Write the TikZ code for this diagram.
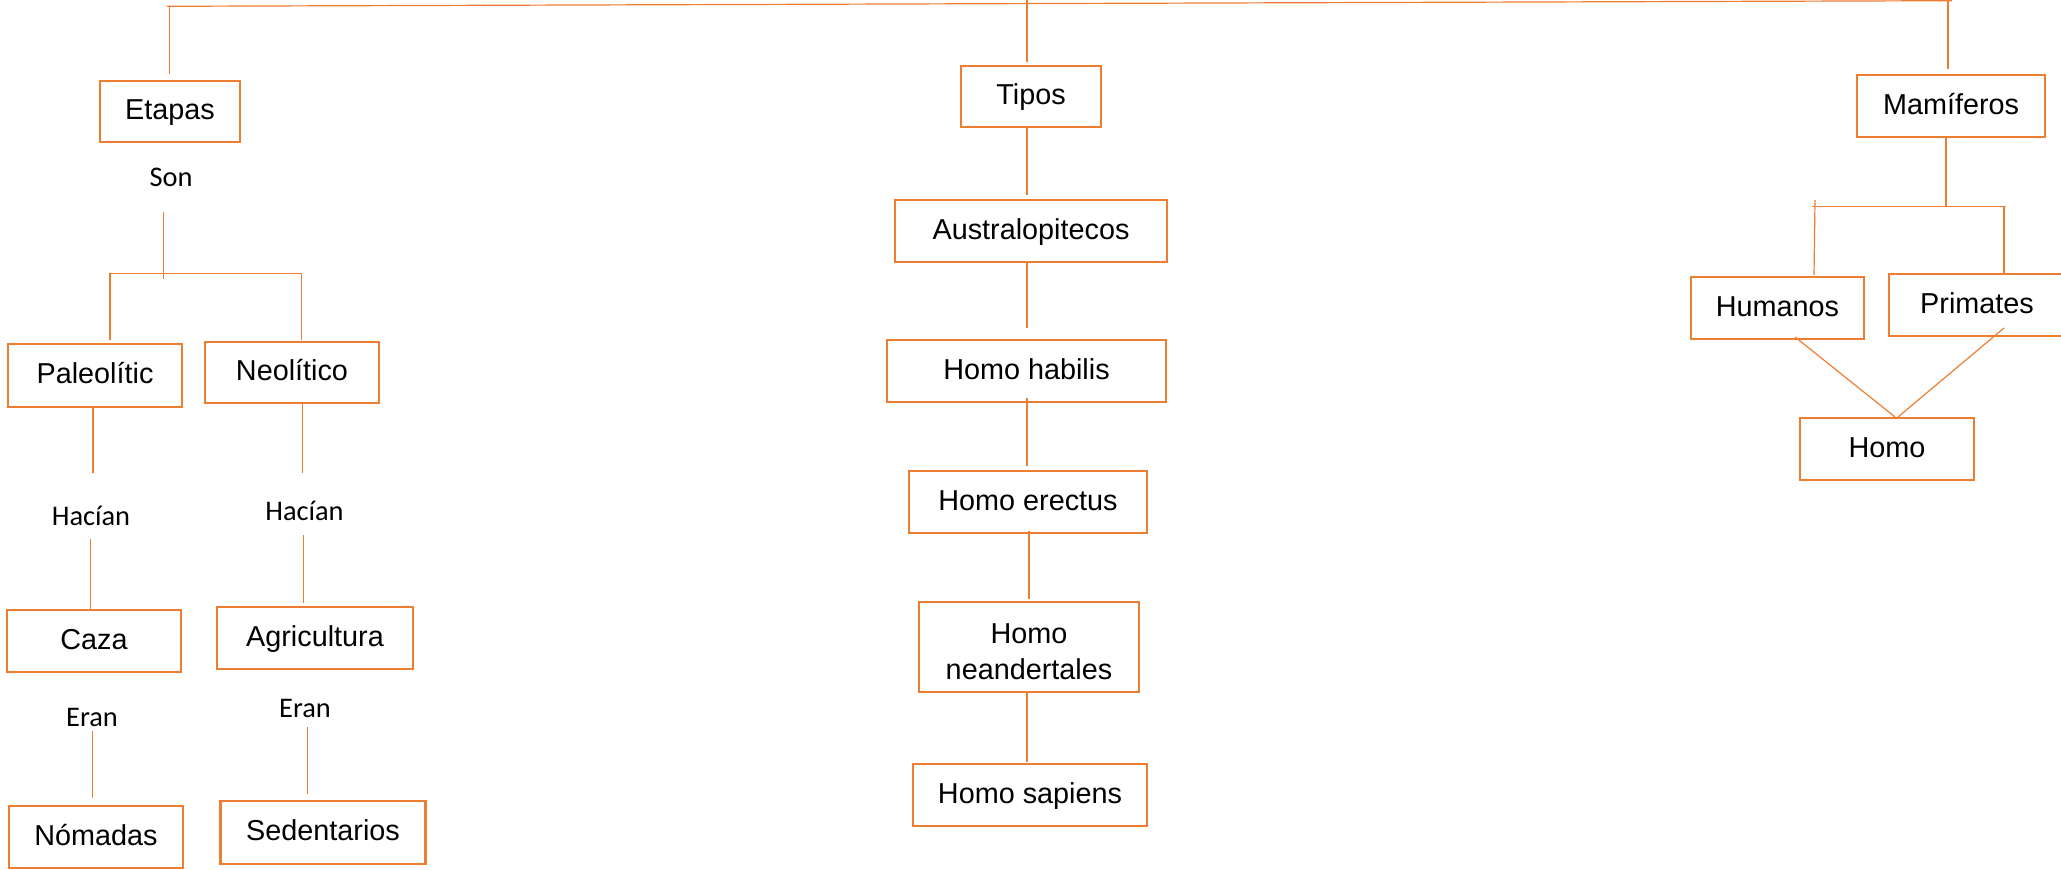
\documentclass[tikz,border=0pt]{standalone}
\usepackage{fontspec}
\setmainfont{Liberation Sans}
\newfontfamily\lblfont{Carlito}
\definecolor{orng}{HTML}{ED7D31}
\begin{document}
\begin{tikzpicture}[x=0.5pt,y=-0.5pt,
  box/.style={draw=orng,line width=1.35pt,inner sep=0pt,font=\fontsize{14.4}{18}\selectfont,text height=8.3pt,text depth=0pt},
  multibox/.style={draw=orng,line width=1.35pt,inner sep=0pt,font=\fontsize{14.4}{18}\selectfont,align=center,text height=33pt,text depth=0pt},
  lbl/.style={inner sep=0pt,anchor=base,font=\lblfont\fontsize{14.2}{17}\selectfont},
  conn/.style={draw=orng,line width=0.6pt}]
\useasboundingbox (0,0) rectangle (2061,870);
\clip (0,0) rectangle (2061,870);

% ---------- left tree ----------
\node[box,minimum width=70pt,minimum height=30.5pt] (etapas) at (170,111.5) {Etapas};
\node[box,minimum width=87pt,minimum height=31.5pt] (pal) at (95,375.5) {Paleolític};
\node[box,minimum width=87pt,minimum height=30.5pt] (neo) at (292,372.5) {Neolítico};
\node[box,minimum width=87pt,minimum height=31pt] (caza) at (94,641) {Caza};
\node[box,minimum width=98pt,minimum height=31pt] (agri) at (315,638) {Agricultura};
\node[box,minimum width=87pt,minimum height=31pt] (nom) at (96,837) {Nómadas};
\node[box,minimum width=102.5pt,minimum height=31.5pt] (sed) at (323,832.5) {Sedentarios};

\node[lbl] (son) at (171,187) {Son};
\node[lbl] (hacl) at (91,526) {Hacían};
\node[lbl] (hacr) at (304.5,521) {Hacían};
\node[lbl] (eranl) at (92,726) {Eran};
\node[lbl] (eranr) at (305,718) {Eran};

% ---------- middle tree ----------
\node[box,minimum width=70pt,minimum height=30.5pt] (tipos) at (1031,96.5) {Tipos};
\node[box,minimum width=136pt,minimum height=31pt] (aus) at (1031,231) {Australopitecos};
\node[box,minimum width=139.5pt,minimum height=31pt] (hab) at (1026.5,371) {Homo habilis};
\node[box,minimum width=119pt,minimum height=31pt] (ere) at (1028,502) {Homo erectus};
\node[multibox,minimum width=110pt,minimum height=45pt] (nea) at (1029,647) {Homo\\neandertales};
\node[box,minimum width=117pt,minimum height=31pt] (sap) at (1030,795) {Homo sapiens};

% ---------- right tree ----------
\node[box,minimum width=94pt,minimum height=31pt] (mam) at (1951,106) {Mamíferos};
\node[box,minimum width=86.5pt,minimum height=31pt] (hum) at (1777.5,308) {Humanos};
\node[box,minimum width=88pt,minimum height=31pt] (pri) at (1977,305) {Primates};
\node[box,minimum width=87pt,minimum height=31pt] (homo) at (1887,449) {Homo};

% ---------- connectors ----------
\coordinate (tl) at (167,6.3);
\coordinate (tr) at (1952,0.7);
\draw[conn] (tl) -- (tr);

\coordinate (e0) at (169.5,6.3);
\coordinate (e1) at (169.5,74);
\draw[conn] (e0) -- (e1);

\coordinate (s0) at (163.7,212);
\coordinate (s1) at (163.7,279);
\draw[conn] (s0) -- (s1);
\coordinate (b0) at (110,273.3);
\coordinate (b1) at (301.7,273.3);
\draw[conn] (b0) -- (b1);
\coordinate (p0) at (110,340);
\draw[conn] (b0) -- (p0);
\coordinate (n0) at (301.7,340);
\draw[conn] (b1) -- (n0);

\coordinate (pd) at (93,473);
\draw[conn] (pd |- pal.south) -- (pd);
\coordinate (nd) at (302.7,473);
\draw[conn] (nd |- neo.south) -- (nd);

\coordinate (hl) at (90.7,539);
\draw[conn] (hl) -- (hl |- caza.north);
\coordinate (hr0) at (303.3,535);
\coordinate (hr1) at (303.3,603);
\draw[conn] (hr0) -- (hr1);

\coordinate (el0) at (92.7,731);
\coordinate (el1) at (92.7,798);
\draw[conn] (el0) -- (el1);
\coordinate (er0) at (307.3,727);
\coordinate (er1) at (307.3,794);
\draw[conn] (er0) -- (er1);

% middle
\coordinate (m0a) at (1027,0);
\coordinate (m0b) at (1027,62);
\draw[conn] (m0a) -- (m0b);
\coordinate (m1) at (1027,195);
\draw[conn] (tipos.south -| m1) -- (m1);
\coordinate (m2) at (1027,328);
\draw[conn] (aus.south -| m2) -- (m2);
\coordinate (m3a) at (1027,398);
\coordinate (m3b) at (1027,466);
\draw[conn] (m3a) -- (m3b);
\coordinate (m4a) at (1029,531);
\coordinate (m4b) at (1029,599);
\draw[conn] (m4a) -- (m4b);
\coordinate (m5) at (1027,762);
\draw[conn] (nea.south -| m5) -- (m5);

% right
\coordinate (r0a) at (1948,0.7);
\coordinate (r0b) at (1948,69);
\draw[conn] (r0a) -- (r0b);
\coordinate (r1) at (1946,206.5);
\draw[conn] (mam.south -| r1) -- (r1);
\coordinate (rh0) at (1812,206.5);
\coordinate (rh1) at (2006,206.5);
\draw[conn] (rh0) -- (rh1);
\coordinate (rl0) at (1815,200);
\coordinate (rl1) at (1814,275);
\draw[conn] (rl0) -- (rl1);
\coordinate (rr0) at (2004,206.5);
\draw[conn] (rr0) -- (rr0 |- pri.north);
\coordinate (hh) at (1795,337);
\coordinate (ph) at (2004,328);
\coordinate (ho1) at (1895,417);
\coordinate (ho2) at (1898,417);
\draw[conn] (hh) -- (ho1);
\draw[conn] (ph) -- (ho2);
\end{tikzpicture}
\end{document}
